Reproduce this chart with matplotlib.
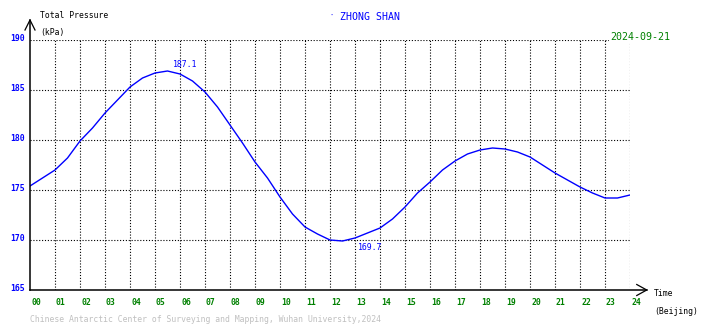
import matplotlib
matplotlib.use("Agg")
import matplotlib.pyplot as plt
import numpy as np

# half-hourly total pressure (kPa)
hours = [0, 0.5, 1, 1.5, 2, 2.5, 3, 3.5, 4, 4.5, 5, 5.5, 6, 6.5, 7, 7.5, 8, 8.5,
         9, 9.5, 10, 10.5, 11, 11.5, 12, 12.5, 13, 13.5, 14, 14.5, 15, 15.5,
         16, 16.5, 17, 17.5, 18, 18.5, 19, 19.5, 20, 20.5, 21, 21.5, 22, 22.5,
         23, 23.5, 24]
pressure = [175.4, 176.2, 177.0, 178.2, 179.9, 181.2, 182.7, 184.0, 185.3, 186.2,
            186.7, 186.9, 186.6, 185.9, 184.8, 183.3, 181.5, 179.7, 177.8, 176.2,
            174.3, 172.6, 171.3, 170.6, 170.0, 169.9, 170.2, 170.7, 171.2, 172.1,
            173.3, 174.7, 175.8, 177.0, 177.9, 178.6, 179.0, 179.2, 179.1, 178.8,
            178.3, 177.5, 176.7, 176.0, 175.3, 174.7, 174.2, 174.2, 174.5]

peak_time, peak_value = 5.7, 187.1
low_time, low_value = 13.1, 169.7

x_ticks = list(range(0, 25))
x_labels = ["%02d" % h for h in x_ticks]
y_ticks = [165, 170, 175, 180, 185, 190]

station = "ZHONG SHAN"
date_str = "2024-09-21"
footer = "Chinese Antarctic Center of Surveying and Mapping, Wuhan University,2024"

W, H = 710, 328
mono = "DejaVu Sans Mono"
blue = "#0000ff"
green = "#008000"


def px(x, y):
    return x / W, 1 - y / H


fig = plt.figure(figsize=(W / 100, H / 100), dpi=100)
ax = fig.add_axes([30 / W, 1 - 290 / H, 600 / W, 250 / H])
ax.set_xlim(0, 24)
ax.set_ylim(165, 190)
for s in ax.spines.values():
    s.set_visible(False)
ax.set_xticks([])
ax.set_yticks([])

# dotted grid
dots = (0, (1, 1.6))
for h in x_ticks[1:]:
    ax.plot([h, h], [165, 190], color="black", lw=0.8, ls=dots, zorder=1)
for v in y_ticks[1:]:
    ax.plot([0, 24], [v, v], color="black", lw=0.8, ls=dots, zorder=1)

# axes with open arrow heads
ax.plot([0, 0], [165, 192], color="black", lw=1.1, clip_on=False, zorder=3)
ax.plot([-0.2, 0, 0.2], [191, 192, 191], color="black", lw=0.9, clip_on=False, zorder=3)
ax.plot([0, 24.67], [165, 165], color="black", lw=1.1, clip_on=False, zorder=3)
ax.plot([24.27, 24.67, 24.27], [165.55, 165, 164.45], color="black", lw=0.9,
        clip_on=False, zorder=3)

# pressure curve
ax.plot(hours, pressure, color=blue, lw=1.0, zorder=2)

ax.text(peak_time, peak_value, "%.1f" % peak_value, color=blue, family=mono,
        fontsize=5.9, ha="left", va="bottom")
ax.text(low_time, low_value, "%.1f" % low_value, color=blue, family=mono,
        fontsize=5.9, ha="left", va="top")

# tick labels
for h, lab in zip(x_ticks, x_labels):
    ax.text(h + 0.04, 163.8, lab, color=green, family=mono, fontsize=5.9,
            ha="left", va="center", fontweight="bold")
for v in y_ticks:
    ax.text(-0.2, v + 0.2, str(v), color=blue, family=mono, fontsize=5.9,
            ha="right", va="center", fontweight="bold")

# titles and captions
fig.text(*px(40, 15), "Total Pressure", family=mono, fontsize=5.9, va="center")
fig.text(*px(40, 33), "(kPa)", family=mono, fontsize=5.9, va="center")
fig.text(*px(329, 16), "·", color=blue, family=mono, fontsize=5, va="center")
fig.text(*px(340, 17), station, color=blue, family=mono, fontsize=7.1, va="center")
fig.text(*px(610, 37), date_str, color=green, family=mono, fontsize=7.2, va="center",
         bbox=dict(facecolor="white", edgecolor="none", pad=0.6), zorder=5)
fig.text(*px(654, 294), "Time", family=mono, fontsize=5.9, va="center")
fig.text(*px(654, 311), "(Beijing)", family=mono, fontsize=5.9, va="center")
fig.text(*px(30, 320), footer, color="#c0c0c0", family=mono, fontsize=5.9, va="center")

fig.savefig("out.png", dpi=100)
